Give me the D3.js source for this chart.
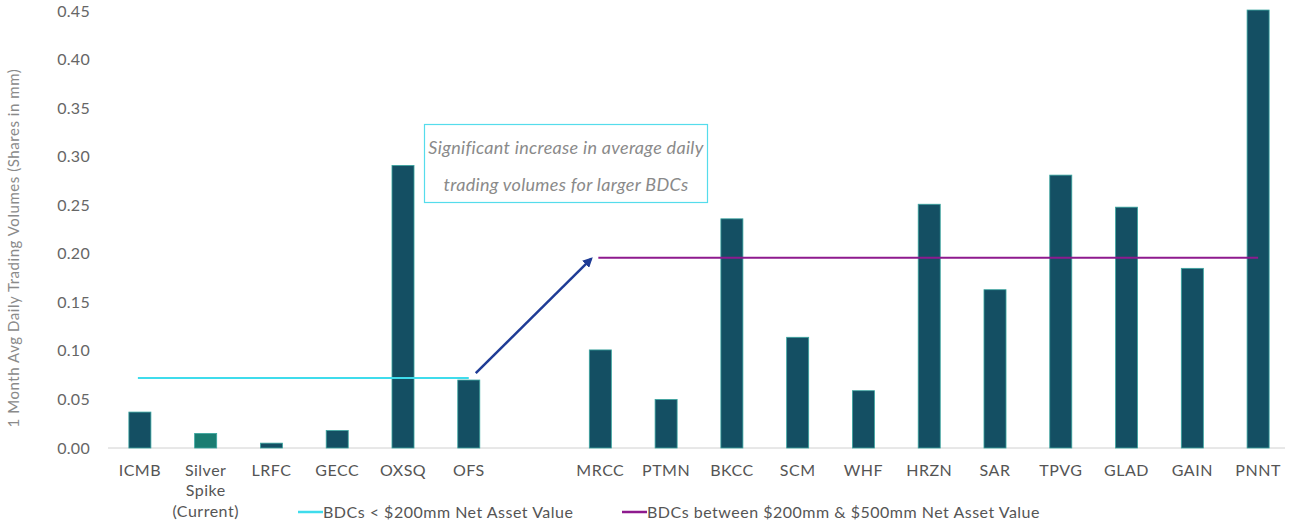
<!DOCTYPE html>
<html>
<head>
<meta charset="utf-8">
<script src="https://cdn.jsdelivr.net/npm/d3@7"></script>
<style>
  body { margin: 0; background: #fff; }
  svg { font-family: Lato, "Open Sans", sans-serif; }
</style>
</head>
<body>
<svg id="chart" width="1292" height="524"></svg>
<script>
// Data

var categories = ["ICMB", "Silver Spike (Current)", "LRFC", "GECC", "OXSQ", "OFS", "",
  "MRCC", "PTMN", "BKCC", "SCM", "WHF", "HRZN", "SAR", "TPVG", "GLAD", "GAIN", "PNNT"];
var volumes = [0.037, 0.015, 0.005, 0.018, 0.291, 0.070, null,
  0.101, 0.050, 0.236, 0.114, 0.059, 0.251, 0.163, 0.281, 0.248, 0.185, 0.451];
var yTicks = [0, 0.05, 0.10, 0.15, 0.20, 0.25, 0.30, 0.35, 0.40, 0.45];

var smallGroup = {label: "BDCs < $200mm Net Asset Value", from: "ICMB", to: "OFS", value: 0.072, color: "#3fdcec"};
var largeGroup = {label: "BDCs between $200mm & $500mm Net Asset Value", from: "MRCC", to: "PNNT", value: 0.196, color: "#8e1a8e"};
var highlight = "Silver Spike (Current)";
var note = ["Significant increase in average daily", "trading volumes for larger BDCs"];

// Chart

var svg = d3.select("#chart");
var plotLeft = 107, plotRight = 1291, plotTop = 11, plotBottom = 448;

var x = d3.scaleBand().domain(categories.map(function(d, i) { return i; }))
  .range([plotLeft, plotRight]).paddingInner(0.665).paddingOuter(0.3325);
var y = d3.scaleLinear().domain([0, 0.45]).range([plotBottom, plotTop]);
var cx = function(name) { return x(categories.indexOf(name)) + x.bandwidth() / 2; };

// y axis labels
svg.append("g").selectAll("text").data(yTicks).enter().append("text")
  .attr("x", 90).attr("y", function(d) { return y(d); }).attr("dy", "0.35em")
  .attr("text-anchor", "end").attr("fill", "#666")
  .style("font-size", "16px").style("letter-spacing", "0.3px")
  .text(d3.format(".2f"));

svg.append("text")
  .attr("transform", "translate(19,248) rotate(-90)")
  .attr("text-anchor", "middle").attr("fill", "#8a8a8a")
  .style("font-size", "15px").style("letter-spacing", "0.55px")
  .text("1 Month Avg Daily Trading Volumes (Shares in mm)");

// baseline
svg.append("line").attr("x1", 108).attr("x2", 1285).attr("y1", y(0)).attr("y2", y(0))
  .attr("stroke", "#d0d0d0").attr("stroke-width", 1);

// bars
var data = categories.map(function(c, i) { return {i: i, name: c, v: volumes[i]}; })
  .filter(function(d) { return d.v != null; });

svg.append("g").selectAll("rect").data(data).enter().append("rect")
  .attr("x", function(d) { return x(d.i); })
  .attr("width", x.bandwidth())
  .attr("y", function(d) { return y(d.v); })
  .attr("height", function(d) { return y(0) - y(d.v); })
  .attr("fill", function(d) { return d.name === highlight ? "#1a7d72" : "#144f63"; })
  .attr("stroke", "#3aa6a0").attr("stroke-width", 0.8);

// category labels
var labels = svg.append("g").selectAll("text").data(categories).enter().append("text")
  .attr("x", function(d, i) { return x(i) + x.bandwidth() / 2; })
  .attr("y", 470)
  .attr("text-anchor", "middle").attr("fill", "#555")
  .style("font-size", "16px").style("letter-spacing", "0.5px");
labels.each(function(d) {
  var t = d3.select(this);
  var parts = d === highlight ? ["Silver", "Spike", "(Current)"] : [d];
  parts.forEach(function(p, k) {
    t.append("tspan").attr("x", t.attr("x")).attr("dy", k === 0 ? "0.35em" : "1.3em").text(p);
  });
});

// group average lines
[smallGroup, largeGroup].forEach(function(g) {
  svg.append("line")
    .attr("x1", cx(g.from) - 2).attr("x2", cx(g.to))
    .attr("y1", y(g.value)).attr("y2", y(g.value))
    .attr("stroke", g.color).attr("stroke-width", 2);
});

// arrow
svg.append("defs").append("marker")
  .attr("id", "arrow").attr("viewBox", "0 0 10 10").attr("refX", 8).attr("refY", 5)
  .attr("markerWidth", 4).attr("markerHeight", 4).attr("orient", "auto")
  .append("path").attr("d", "M0,0 L10,5 L0,10 z").attr("fill", "#1f3c96");
svg.append("line")
  .attr("x1", cx(smallGroup.to) + 7).attr("y1", y(smallGroup.value) - 5)
  .attr("x2", cx(largeGroup.from) - 9).attr("y2", y(largeGroup.value) + 1)
  .attr("stroke", "#1f3c96").attr("stroke-width", 2.5).attr("marker-end", "url(#arrow)");

// note box
svg.append("rect").attr("x", 424.5).attr("y", 124.5).attr("width", 283).attr("height", 78)
  .attr("fill", "#fff").attr("stroke", "#55dcec").attr("stroke-width", 1.2);
svg.append("g").selectAll("text").data(note).enter().append("text")
  .attr("x", 566).attr("y", function(d, i) { return 148 + i * 37; }).attr("dy", "0.35em")
  .attr("text-anchor", "middle").attr("fill", "#8a8a8a")
  .style("font-size", "18px").style("font-style", "italic").style("letter-spacing", "0.3px")
  .text(function(d) { return d; });

// legend
var legend = [{g: smallGroup, x: 298}, {g: largeGroup, x: 622}];
legend.forEach(function(l) {
  svg.append("line").attr("x1", l.x).attr("x2", l.x + 25).attr("y1", 512).attr("y2", 512)
    .attr("stroke", l.g.color).attr("stroke-width", 2.5);
  svg.append("text").attr("x", l.x + 25).attr("y", 512).attr("dy", "0.35em")
    .attr("fill", "#555").style("font-size", "16px").style("letter-spacing", "0.5px")
    .text(l.g.label);
});
</script>
</body>
</html>
